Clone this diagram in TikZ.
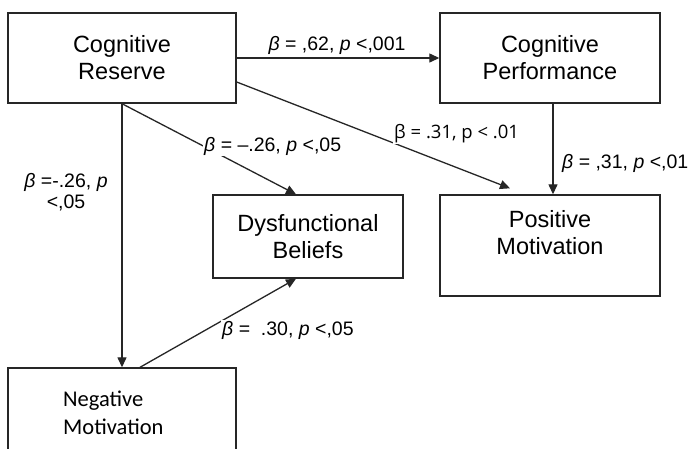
\documentclass[tikz,border=0pt]{standalone}
\usepackage{fontspec}
\setmainfont{Liberation Sans}
\newfontfamily\segoefont{Open Sans}
\newfontfamily\calibfont{Carlito}
\usetikzlibrary{arrows.meta, positioning}
\newcommand{\bcoef}{\textit{β}}
\newcommand{\pval}{\textit{p}}
\tikzset{
  box_node/.style={draw=black!85, line width=1.4pt, align=center, font=\fontsize{23.5}{27}\selectfont},
  box_text/.style={align=center, font=\fontsize{23.5}{27}\selectfont},
  path_arrow/.style={draw=black!85, line width=1.3pt, -{Triangle[length=10pt, width=9pt]}},
  beta_label/.style={font=\fontsize{19.5}{21}\selectfont, inner sep=1pt},
  beta_label_cut/.style={beta_label, fill=white, anchor=west}
}
\begin{document}
\begin{tikzpicture}[x=1pt, y=-1pt]
\useasboundingbox[fill=white] (0,0) rectangle (688,448);
% boxes
\node[box_node, minimum width=228pt, minimum height=90pt] (cog_reserve) at (122,58) {Cognitive\\Reserve};
\node[box_node, minimum width=220pt, minimum height=90pt] (cog_perf) at (550,58) {Cognitive\\Performance};
\node[box_node, minimum width=190pt, minimum height=83pt] (dys_beliefs) at (308,236.5) {Dysfunctional\\Beliefs};
\node[box_node, minimum width=220pt, minimum height=101pt] (pos_motiv) at (550,245.5) {};
\node[box_text] (pos_motiv_text) at (550,233) {Positive\\Motivation};
\node[box_node, minimum width=228pt, minimum height=112pt] (neg_motiv) at (122,424) {};
\node[align=left, anchor=north west, inner sep=0pt, font=\calibfont\fontsize{22.5}{28}\selectfont] (neg_motiv_text) at (63,390.5) {Negative\\Motivation};
% paths
\draw[path_arrow] (cog_reserve.east) -- (cog_perf.west);
\draw[path_arrow] ([yshift=-24pt]cog_reserve.east) -- ([xshift=-40pt, yshift=6pt]pos_motiv.north);
\draw[path_arrow] (cog_reserve.south) -- ([xshift=-12pt]dys_beliefs.north);
\draw[path_arrow] (cog_reserve.south) -- (neg_motiv.north);
\draw[path_arrow] ([xshift=18pt]neg_motiv.north) -- ([xshift=-12pt]dys_beliefs.south);
\draw[path_arrow] ([xshift=3pt]cog_perf.south) -- ([xshift=3pt]pos_motiv.north);
% coefficients
\node[beta_label] (lbl_reserve_perf) at (337,45) {\bcoef{} = ,62, \pval{} <,001};
\node[beta_label_cut] (lbl_reserve_dys) at (203,146) {\bcoef{} = –.26, \pval{} <,05};
\node[beta_label_cut, font=\segoefont\fontsize{18.5}{21}\selectfont] (lbl_reserve_pos) at (393,134) {β = .31, p < .01};
\node[beta_label, align=center] (lbl_reserve_neg) at (66,192) {\bcoef{} =-.26, \pval\\<,05};
\node[beta_label, anchor=west] (lbl_perf_pos) at (561,163) {\bcoef{} = ,31, \pval{} <,01};
\node[beta_label_cut] (lbl_neg_dys) at (221,330) {\bcoef{} = \ .30, \pval{} <,05};
\end{tikzpicture}
\end{document}
